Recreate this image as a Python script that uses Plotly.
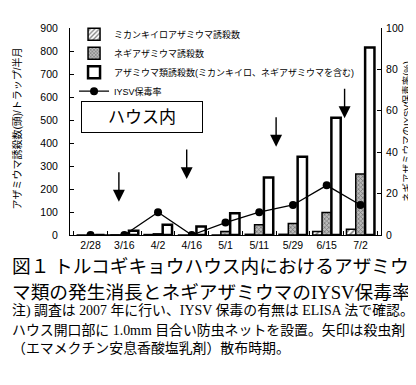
import plotly.graph_objects as go

dates = ["2/28", "3/16", "4/2", "4/16", "5/1", "5/11", "5/29", "6/15", "7/2"]
mikan = [0, 0, 2, 0, 0, 3, 3, 15, 25]
negi = [0, 0, 5, 0, 15, 45, 50, 98, 265]
total = [0, 18, 45, 37, 95, 250, 340, 510, 815]
iysv = [0, 0, 11, 0, 6, 11, 14.5, 24, 14.5]

# insecticide spray arrows: (category position, tip value on left axis)
arrow_x = [0.84, 2.85, 5.5, 7.53]
arrow_y = [145, 243, 384, 508]

JP = "Liberation Sans, Arial, Noto Sans CJK JP"
SERIF = "Liberation Serif, Noto Sans CJK JP"
TICK = dict(family="Liberation Sans, Arial", size=10.5, color="black")

fig = go.Figure()
fig.add_trace(go.Bar(
    x=dates, y=mikan, name="ミカンキイロアザミウマ誘殺数",
    marker=dict(color="white", line=dict(color="black", width=1.5),
                pattern=dict(shape="/", fgcolor="black", bgcolor="white", size=4, solidity=0.4)),
))
fig.add_trace(go.Bar(
    x=dates, y=negi, name="ネギアザミウマ誘殺数",
    marker=dict(color="#999999", line=dict(color="black", width=1.5),
                pattern=dict(shape="x", fgcolor="#222222", bgcolor="#bbbbbb", size=3, solidity=0.4)),
))
fig.add_trace(go.Bar(
    x=dates, y=total, name="アザミウマ類誘殺数(ミカンキイロ、ネギアザミウマを含む)",
    marker=dict(color="white", line=dict(color="black", width=2.5)),
))
fig.add_trace(go.Scatter(
    x=dates, y=iysv, name="IYSV保毒率", yaxis="y2", mode="lines+markers",
    line=dict(color="black", width=1.3),
    marker=dict(color="black", size=8, symbol="circle"),
))

annotations = []
for ax_, ay_ in zip(arrow_x, arrow_y):
    annotations.append(dict(
        x=ax_, y=ay_, xref="x", yref="y", text="", showarrow=True,
        ax=0, ay=-31, arrowhead=2, arrowsize=1.7, arrowwidth=1.4, arrowcolor="black",
    ))

annotations.append(dict(
    x=0.035, y=0.648, xref="paper", yref="paper", xanchor="left", yanchor="top",
    text="ハウス内", showarrow=False, font=dict(family=JP, size=17, color="black"),
    bordercolor="black", borderwidth=1, borderpad=2, width=116, height=26,
))

# axis titles
annotations.append(dict(
    x=0, y=0.514, xref="paper", yref="paper", xanchor="center", yanchor="middle",
    xshift=-53, textangle=-90, text="アザミウマ誘殺数(頭)/トラップ/半月", showarrow=False,
    font=dict(family=JP, size=10, color="black"),
))

captions = [
    ("図１ トルコギキョウハウス内におけるアザミウ", 18.7, 258),
    ("マ類の発生消長とネギアザミウマのIYSV保毒率", 18.7, 284),
    ("注) 調査は 2007 年に行い、IYSV 保毒の有無は ELISA 法で確認。", 13.9, 303),
    ("ハウス開口部に 1.0mm 目合い防虫ネットを設置。矢印は殺虫剤", 13.9, 322),
    ("（エマメクチン安息香酸塩乳剤）散布時期。", 13.9, 340),
]
for txt, sz, ypix in captions:
    annotations.append(dict(
        x=0, y=0, xref="paper", yref="paper", xanchor="left", yanchor="middle",
        xshift=-60, yshift=-(ypix - 227), text=txt, showarrow=False,
        font=dict(family=SERIF, size=sz, color="black"),
    ))

fig.update_layout(
    width=416, height=385,
    margin=dict(l=62, r=43, t=15, b=158),
    paper_bgcolor="white", plot_bgcolor="white",
    barmode="group", bargap=0.17, bargroupgap=0,
    showlegend=True,
    legend=dict(x=0.013, y=1.04, xanchor="left", yanchor="top",
                font=dict(family=JP, size=9, color="black"),
                bgcolor="rgba(0,0,0,0)", tracegroupgap=0),
    xaxis=dict(type="category", showline=True, linecolor="black", linewidth=1,
               ticks="inside", ticklen=4, tickcolor="black", tickson="boundaries",
               tickfont=TICK, showgrid=False),
    yaxis=dict(range=[0, 900], dtick=100, showline=True, linecolor="black", linewidth=1,
               ticks="inside", ticklen=4, tickcolor="black", showgrid=False, zeroline=False,
               tickfont=TICK, ticklabelstandoff=9),
    yaxis2=dict(range=[0, 100], dtick=20, overlaying="y", side="right",
                showline=True, linecolor="black", linewidth=1,
                ticks="inside", ticklen=4, tickcolor="black", showgrid=False, zeroline=False,
                tickfont=TICK, ticklabelstandoff=2,
                title=dict(text="ネギアザミウマのIYSV保毒率(%)", standoff=0,
                           font=dict(family=JP, size=9.5, color="black"))),
    annotations=annotations,
)

fig.write_html("out.html")
